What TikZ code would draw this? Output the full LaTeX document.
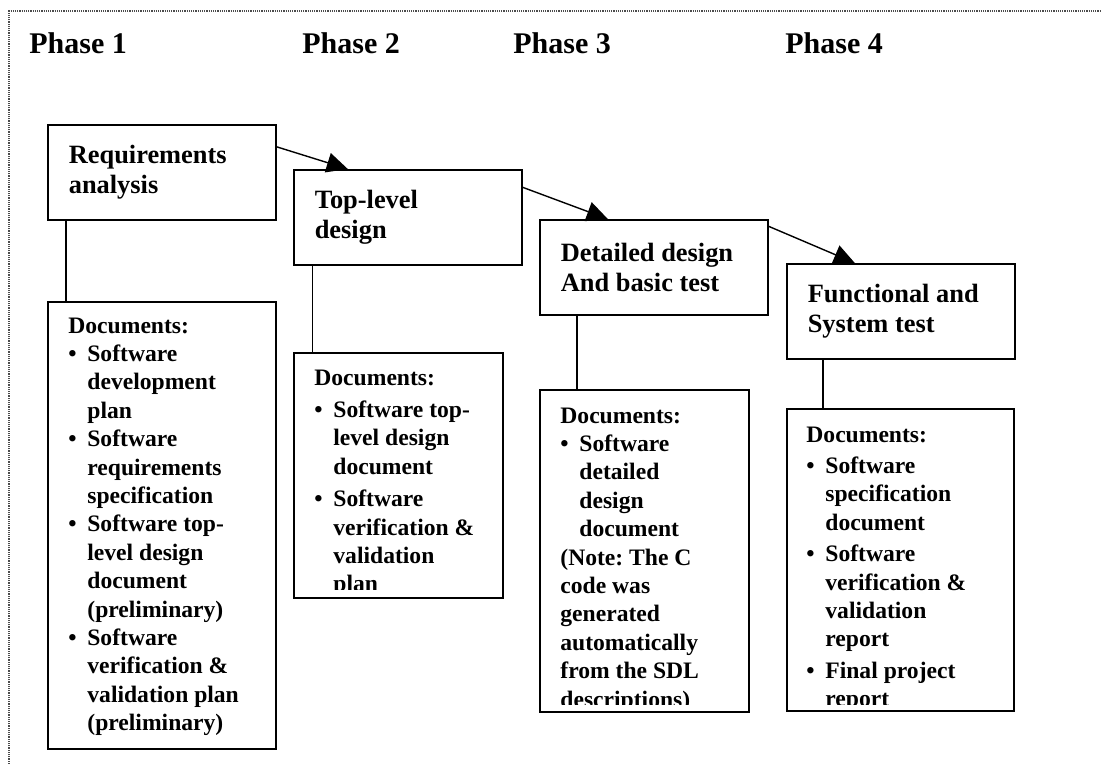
\documentclass[tikz,border=0pt]{standalone}
\usepackage{fontspec}
\setmainfont{Liberation Serif}
\usetikzlibrary{arrows.meta}
\frenchspacing
\newcommand{\docitem}[1]{\par\hangindent=9.5pt\hangafter=1\noindent\makebox[9.5pt][l]{\textbullet}#1}

\begin{document}
\begin{tikzpicture}[
        x=0.5pt, y=-0.5pt,
        phase/.style={anchor=base west, inner sep=0pt, font=\bfseries\fontsize{15}{18}\selectfont},
        stage/.style={draw, line width=0.8pt, anchor=north west, minimum width=114pt, minimum height=47.5pt,
            text width=93pt, inner xsep=10.5pt, inner ysep=0pt, align=flush left, font=\bfseries\fontsize{13.2}{15.2}\selectfont},
        docbox/.style={draw, line width=0.8pt, anchor=north west, inner sep=0pt},
        doctext/.style={anchor=base west, inner sep=0pt, text width=100pt, align=flush left,
            font=\bfseries\fontsize{11.8}{14.2}\selectfont,
            execute at begin node={\setlength{\parskip}{#1}\setlength{\parindent}{0pt}}},
        doctext/.default=0pt,
        link/.style={line width=0.7pt},
        flow/.style={line width=0.7pt, -{Triangle[length=10.5pt, width=10pt]}},
        frame/.style={line width=0.6pt, black!70, dash pattern=on 0.6pt off 0.5pt},
    ]

    \useasboundingbox (0,0) rectangle (1101,764);
    \draw[frame] (9,764) -- (9,11) -- (1101,11);

    \node[phase] (ph1) at (29,54) {Phase 1};
    \node[phase] (ph2) at (302,54) {Phase 2};
    \node[phase] (ph3) at (513,54) {Phase 3};
    \node[phase] (ph4) at (785,54) {Phase 4};

    \node[stage] (req) at (47,124) {Requirements\\analysis};
    \node[stage] (top) at (293,169) {Top-level\\design};
    \node[stage] (det) at (539,219) {Detailed design\\And basic test};
    \node[stage] (fun) at (786,263) {Functional and\\System test};

    \draw[flow] ([yshift=12.75pt]req.east) -- ([xshift=-30pt]top.north);
    \draw[flow] ([yshift=15pt]top.east) -- ([xshift=-23pt]det.north);
    \draw[flow] ([yshift=20.5pt]det.east) -- ([xshift=-23pt]fun.north);

    \node[docbox, minimum width=114pt, minimum height=223.5pt] (docreq) at (47,301) {};
    \node[docbox, minimum width=104.5pt, minimum height=122.5pt] (doctop) at (293,352) {};
    \node[docbox, minimum width=104.5pt, minimum height=161pt] (docdet) at (539,389) {};
    \node[docbox, minimum width=113.5pt, minimum height=151pt] (docfun) at (786,408) {};

    \draw[link] ([xshift=9.5pt]req.south west) -- ([xshift=9.5pt]docreq.north west);
    \draw[link] ([xshift=9.75pt]top.south west) -- ([xshift=9.75pt]doctop.north west);
    \draw[link] ([xshift=19pt]det.south west) -- ([xshift=19pt]docdet.north west);
    \draw[link] ([xshift=18.5pt]fun.south west) -- ([xshift=18.5pt]docfun.north west);

    \begin{scope}
        \clip (docreq.north west) rectangle ([yshift=4pt]docreq.south east);
        \node[doctext] (listreq) at ([xshift=10.5pt, yshift=-16pt]docreq.north west) {Documents:
            \docitem{Software\newline development\newline plan}
            \docitem{Software\newline requirements\newline specification}
            \docitem{Software top-\newline level design\newline document\newline (preliminary)}
            \docitem{Software\newline verification \&\newline validation plan\newline (preliminary)}\par};
    \end{scope}
    \begin{scope}
        \clip (doctop.north west) rectangle ([yshift=4.5pt]doctop.south east);
        \node[doctext=2pt] (listtop) at ([xshift=10.5pt, yshift=-16.5pt]doctop.north west) {Documents:
            \docitem{Software top-\newline level design\newline document}
            \docitem{Software\newline verification \&\newline validation\newline plan}\par};
    \end{scope}
    \begin{scope}
        \clip (docdet.north west) rectangle ([yshift=4pt]docdet.south east);
        \node[doctext] (listdet) at ([xshift=10.5pt, yshift=-17pt]docdet.north west) {Documents:
            \docitem{Software\newline detailed\newline design\newline document}
            \par\noindent(Note: The C\newline code was\newline generated\newline automatically\newline
            from the SDL\newline descriptions)\par};
    \end{scope}
    \begin{scope}
        \clip (docfun.north west) rectangle ([yshift=3.5pt]docfun.south east);
        \node[doctext=1.5pt] (listfun) at ([xshift=10pt, yshift=-17pt]docfun.north west) {Documents:
            \docitem{Software\newline specification\newline document}
            \docitem{Software\newline verification \&\newline validation\newline report}
            \docitem{Final project\newline report}\par};
    \end{scope}

\end{tikzpicture}
\end{document}
